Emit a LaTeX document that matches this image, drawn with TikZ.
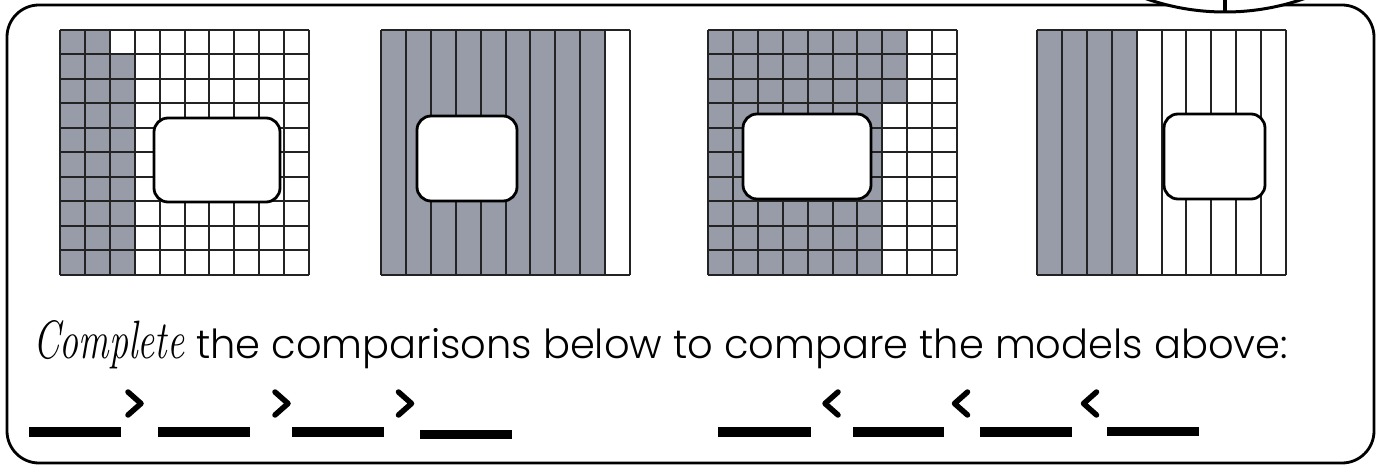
\documentclass[tikz,border=0pt]{standalone}
\usepackage{fontspec}
\newfontfamily\poppins[UprightFont={* Light}]{Poppins}
\definecolor{shadecol}{RGB}{152,156,168}
\definecolor{gline}{RGB}{35,35,35}
\newcommand\gtsign[1]{\draw[signline] (#1-6.5,392) -- (#1+6.5,403.5) -- (#1-6.5,415);}
\newcommand\ltsign[1]{\draw[signline] (#1+6.5,392) -- (#1-6.5,403.5) -- (#1+6.5,415);}
\begin{document}
\begin{tikzpicture}[x=1pt,y=-1pt,
  gridline/.style={draw=gline,line width=2pt},
  holebox/.style={draw=black,fill=white,line width=2.8pt,rounded corners=14pt,inner sep=0pt},
  framebox/.style={draw=black,line width=2.8pt,rounded corners=32pt},
  blankline/.style={fill=black},
  signline/.style={draw=black,line width=5.5pt,line cap=round,line join=round}]
\useasboundingbox (0,0) rectangle (1377,465);
\def\cw{24.9}
\def\ch{24.5}
% outer frame
\draw[framebox] (7,5) rectangle (1374,463);
% top-right circle cut by the picture edge
\begin{scope}
  \clip (0,0) rectangle (1377,465);
  \draw[line width=3pt,fill=white] (1225,-228) circle[radius=240pt];
  \draw[line width=4pt] (1225,-2) -- (1225,12);
\end{scope}
% grid 1
\begin{scope}[shift={(60,30)}]
  \fill[shadecol] (0,0) rectangle (2*\cw,10*\ch);
  \fill[shadecol] (2*\cw,\ch) rectangle (3*\cw,10*\ch);
  \foreach \i in {0,...,10} {
    \draw[gridline] (\i*\cw,0) -- (\i*\cw,10*\ch);
    \draw[gridline] (0,\i*\ch) -- (10*\cw,\i*\ch);
  }
\end{scope}
% grid 2
\begin{scope}[shift={(381,30)}]
  \fill[shadecol] (0,0) rectangle (9*\cw,10*\ch);
  \foreach \i in {0,...,10} {
    \draw[gridline] (\i*\cw,0) -- (\i*\cw,10*\ch);
  }
  \draw[gridline] (0,0) -- (10*\cw,0);
  \draw[gridline] (0,10*\ch) -- (10*\cw,10*\ch);
\end{scope}
% grid 3
\begin{scope}[shift={(708,30)}]
  \fill[shadecol] (0,0) rectangle (8*\cw,3*\ch);
  \fill[shadecol] (0,3*\ch) rectangle (7*\cw,10*\ch);
  \foreach \i in {0,...,10} {
    \draw[gridline] (\i*\cw,0) -- (\i*\cw,10*\ch);
    \draw[gridline] (0,\i*\ch) -- (10*\cw,\i*\ch);
  }
\end{scope}
% grid 4
\begin{scope}[shift={(1037,30)}]
  \fill[shadecol] (0,0) rectangle (4*\cw,10*\ch);
  \foreach \i in {0,...,10} {
    \draw[gridline] (\i*\cw,0) -- (\i*\cw,10*\ch);
  }
  \draw[gridline] (0,0) -- (10*\cw,0);
  \draw[gridline] (0,10*\ch) -- (10*\cw,10*\ch);
\end{scope}
% label boxes
\node[holebox,minimum width=126pt,minimum height=84pt] (box1) at (217,160) {};
\node[holebox,minimum width=100pt,minimum height=85pt] (box2) at (467,158.5) {};
\node[holebox,minimum width=128pt,minimum height=85pt] (box3) at (807,156.5) {};
\node[holebox,minimum width=101pt,minimum height=85pt] (box4) at (1214.5,156.5) {};
% instruction
\node[anchor=base west,inner sep=0pt] (complete) at (33,358) {\scalebox{0.95}[1.35]{\fontsize{40}{40}\selectfont\itshape Complete}};
\node[anchor=base west,inner sep=0pt] (rest) at (196,358) {\poppins\fontsize{40}{40}\selectfont the comparisons below to compare the models above:};
% greater-than row
\fill[blankline] (29,427) rectangle (121,437);
\gtsign{134.5}
\fill[blankline] (158,427) rectangle (250,437);
\gtsign{281.5}
\fill[blankline] (292,427) rectangle (384,437);
\gtsign{405}
\fill[blankline] (420,430) rectangle (512,439);
% less-than row
\fill[blankline] (718,427) rectangle (811,437);
\ltsign{831.5}
\fill[blankline] (853,427) rectangle (944,437);
\ltsign{961}
\fill[blankline] (980,427) rectangle (1072,437);
\ltsign{1090}
\fill[blankline] (1107,427) rectangle (1199,436);
\end{tikzpicture}
\end{document}
